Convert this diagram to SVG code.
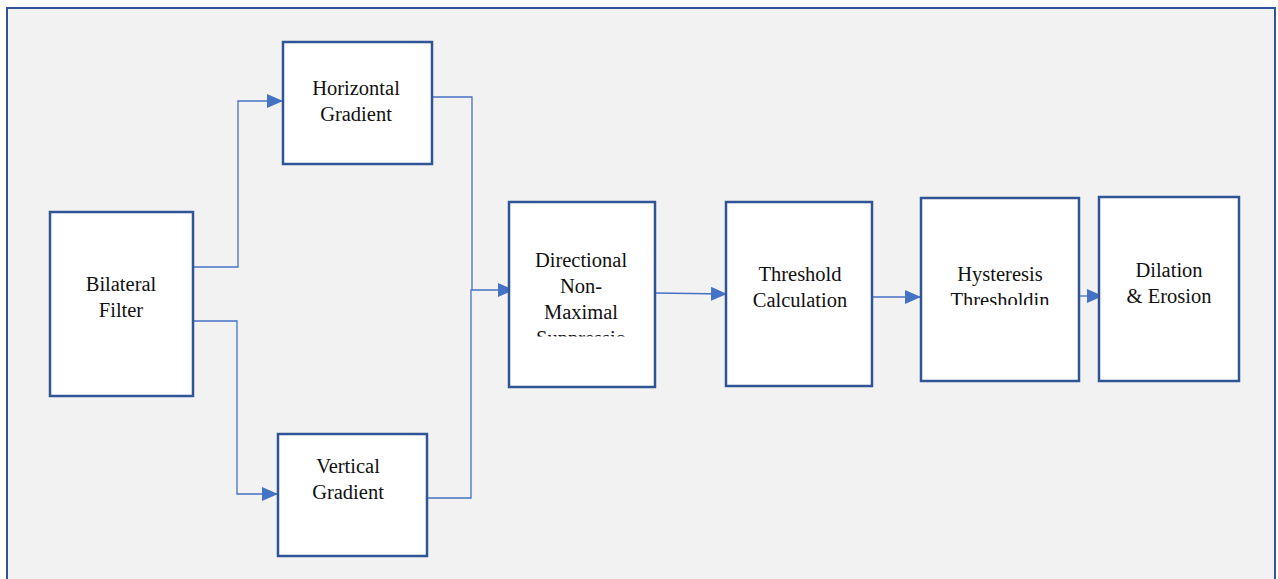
<svg xmlns="http://www.w3.org/2000/svg" width="1278" height="579" viewBox="0 0 1278 579">
<style>
.box{fill:#fff;stroke:#2F5597;stroke-width:2.5}
.lbl{font-family:"Liberation Serif","Times New Roman","DejaVu Serif",serif;font-size:20.5px;fill:#111;text-anchor:middle}
.con{fill:none;stroke:#4472C4;stroke-width:1.3}
</style>
<defs>
<marker id="arr" viewBox="0 0 16 14" refX="16" refY="7" markerWidth="16" markerHeight="14" markerUnits="userSpaceOnUse" orient="auto">
<path d="M0,0 L16,7 L0,14 z" fill="#4472C4"/>
</marker>
<clipPath id="clipNms"><rect x="509" y="202" width="146" height="134.5"/></clipPath>
<clipPath id="clipHys"><rect x="921" y="198" width="158" height="107"/></clipPath>
</defs>
<rect x="0" y="0" width="1278" height="579" fill="#fff"/>
<rect x="7" y="8" width="1268" height="590" fill="#F2F2F2" stroke="#2F5597" stroke-width="2"/>
<g id="connectors">
<polyline class="con" points="193,267 238,267 238,101 283,101" marker-end="url(#arr)"/>
<polyline class="con" points="193,321 237,321 237,494 278,494" marker-end="url(#arr)"/>
<polyline class="con" points="432,97 472,97 472,290"/>
<polyline class="con" points="427,498 471,498 471,290 514,290" marker-end="url(#arr)"/>
<line class="con" x1="655" y1="293" x2="727" y2="294" marker-end="url(#arr)"/>
<line class="con" x1="872" y1="297" x2="921" y2="297" marker-end="url(#arr)"/>
<line class="con" x1="1079" y1="296" x2="1103" y2="296" marker-end="url(#arr)"/>
</g>
<g id="bilateral">
<rect class="box" x="50" y="212" width="143" height="184"/>
<text class="lbl" x="121" y="291">Bilateral</text>
<text class="lbl" x="121" y="317">Filter</text>
</g>
<g id="horizontal">
<rect class="box" x="283" y="42" width="149" height="122"/>
<text class="lbl" x="356" y="95">Horizontal</text>
<text class="lbl" x="356" y="121">Gradient</text>
</g>
<g id="vertical">
<rect class="box" x="278" y="434" width="149" height="122"/>
<text class="lbl" x="348" y="473">Vertical</text>
<text class="lbl" x="348" y="499">Gradient</text>
</g>
<g id="nms">
<rect class="box" x="509" y="202" width="146" height="185"/>
<g clip-path="url(#clipNms)">
<text class="lbl" x="581" y="267">Directional</text>
<text class="lbl" x="581" y="293">Non-</text>
<text class="lbl" x="581" y="319">Maximal</text>
<text class="lbl" x="581" y="345">Suppressio</text>
</g>
</g>
<g id="threshold">
<rect class="box" x="726" y="202" width="146" height="184"/>
<text class="lbl" x="800" y="281">Threshold</text>
<text class="lbl" x="800" y="307">Calculation</text>
</g>
<g id="hysteresis">
<rect class="box" x="921" y="198" width="158" height="183"/>
<g clip-path="url(#clipHys)">
<text class="lbl" x="1000" y="281">Hysteresis</text>
<text class="lbl" x="1000" y="307">Thresholdin</text>
</g>
</g>
<g id="dilation">
<rect class="box" x="1099" y="197" width="140" height="184"/>
<text class="lbl" x="1169" y="277">Dilation</text>
<text class="lbl" x="1169" y="303">&amp; Erosion</text>
</g>
</svg>
